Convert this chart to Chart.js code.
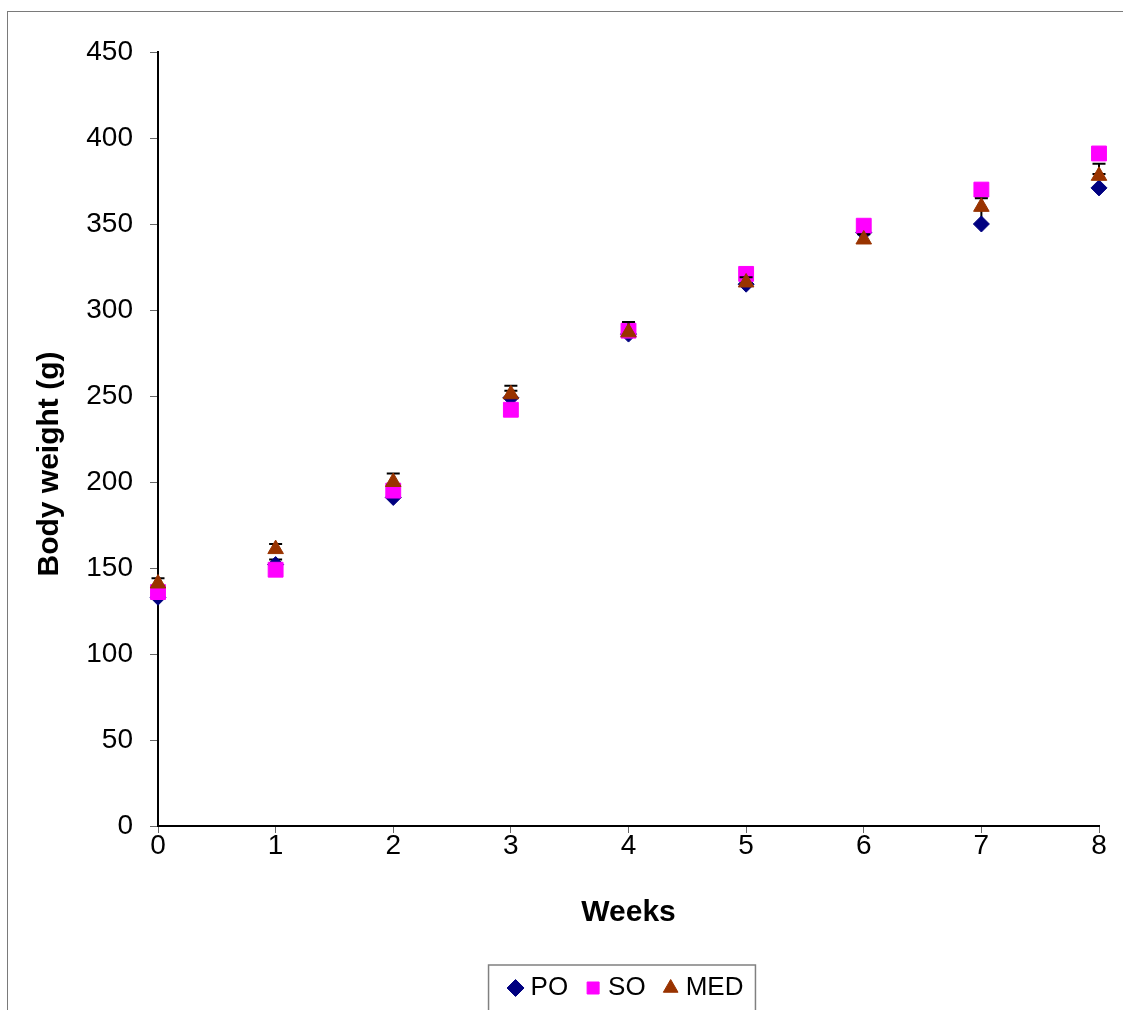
<!DOCTYPE html>
<html>
<head>
<meta charset="utf-8">
<script src="https://cdn.jsdelivr.net/npm/chart.js@4.4.1/dist/chart.umd.min.js"></script>
<style>
  html, body { margin: 0; padding: 0; background: #fff; overflow: hidden; }
  #frame { position: absolute; left: 7px; top: 11px; width: 1200px; height: 1100px;
           border-top: 1.5px solid #7a7a7a; border-left: 1.5px solid #7a7a7a; }
  #wrap { position: absolute; left: 0; top: 0; width: 1123px; height: 1011px; }
</style>
</head>
<body>
<div id="frame"></div>
<div id="wrap"><canvas id="chart"></canvas></div>
<script>
// 週數與體重 (g)
const weeks = [0, 1, 2, 3, 4, 5, 6, 7, 8];
const poWeight  = [133, 152, 191, 249, 286, 315, 345, 350, 371];
const soWeight  = [136, 149, 195, 242, 288, 321, 349, 370, 391];
const medWeight = [141, 161, 200, 251, 287, 316, 341, 360, 378];
// 誤差棒 (只畫上方)
const poErr  = [3, 3, 4, 4, 4, 3, 3, 8, 8];
const soErr  = [3, 3, 3, 3, 3, 3, 3, 3, 3];
const medErr = [3, 3, 5, 5, 6, 3, 3, 5, 7];
const xTicks = [0, 8, 1];    // min, max, step
const yTicks = [0, 450, 50];

const FONT = '"Liberation Sans", Arial, sans-serif';
Chart.defaults.font.family = FONT;
Chart.defaults.color = '#000';

const toPoints = vals => vals.map((v, i) => ({ x: weeks[i], y: v }));

// 每個資料集先畫誤差棒，再畫點
const errorBars = {
    id: 'errorBars',
    beforeDatasetDraw(chart, args) {
        const ds = chart.data.datasets[args.index];
        if (!ds.errPlus) return;
        const { ctx, scales: { x, y } } = chart;
        ctx.save();
        ctx.strokeStyle = '#000';
        ctx.lineWidth = 2;
        ds.data.forEach((p, i) => {
            const px = x.getPixelForValue(p.x);
            const y0 = y.getPixelForValue(p.y);
            const y1 = y.getPixelForValue(p.y + ds.errPlus[i]);
            ctx.beginPath();
            ctx.moveTo(px, y0); ctx.lineTo(px, y1);
            ctx.moveTo(px - 6.5, y1); ctx.lineTo(px + 6.5, y1);
            ctx.stroke();
        });
        ctx.restore();
    }
};

// 圖例外框
const legendBox = {
    id: 'legendBox',
    afterDraw(chart) {
        const hb = chart.legend && chart.legend.legendHitBoxes;
        if (!hb || !hb.length) return;
        const first = hb[0], last = hb[hb.length - 1];
        const ctx = chart.ctx;
        ctx.save();
        ctx.strokeStyle = '#808080';
        ctx.lineWidth = 1.5;
        const left = first.left - 25;
        ctx.strokeRect(left, first.top - 10, last.left + last.width + 12 - left, chart.height);
        ctx.restore();
    }
};

new Chart(document.getElementById('chart'), {
    type: 'scatter',
    data: {
        datasets: [
            {
                label: 'PO', data: toPoints(poWeight), errPlus: poErr, order: 3,
                pointStyle: 'rectRot', pointRadius: 8,
                backgroundColor: '#000080', borderColor: '#000080', borderWidth: 1, clip: false
            },
            {
                label: 'SO', data: toPoints(soWeight), errPlus: soErr, order: 2,
                pointStyle: 'rect', pointRadius: 10.5,
                backgroundColor: '#ff00ff', borderColor: '#ff00ff', borderWidth: 1, clip: false
            },
            {
                label: 'MED', data: toPoints(medWeight), errPlus: medErr, order: 1,
                pointStyle: 'triangle', pointRadius: 9,
                backgroundColor: '#993300', borderColor: '#993300', borderWidth: 1, clip: false
            }
        ]
    },
    options: {
        responsive: true,
        maintainAspectRatio: false,
        animation: false,
        events: [],
        layout: { padding: { left: 0, top: 52, right: 24, bottom: 0 } },
        scales: {
            x: {
                type: 'linear', min: xTicks[0], max: xTicks[1],
                ticks: { stepSize: xTicks[2], font: { size: 28 }, color: '#000', padding: -4 },
                grid: { drawOnChartArea: false, tickLength: 7, color: '#666' },
                border: { color: '#000', width: 2 },
                title: { display: true, text: 'Weeks', font: { size: 30, weight: 'bold' }, color: '#000',
                         padding: { top: 0, bottom: 21 } },
                afterFit: s => { s.height = 126; }
            },
            y: {
                min: yTicks[0], max: yTicks[1],
                ticks: { stepSize: yTicks[2], font: { size: 28 }, color: '#000', padding: 17 },
                grid: { drawOnChartArea: false, tickLength: 8, color: '#666' },
                border: { color: '#000', width: 2 },
                // 尾端空白讓標題稍微往下移 (與原圖對齊)
                title: { display: true, text: 'Body weight (g)      ', font: { size: 30, weight: 'bold' }, color: '#000',
                         padding: { top: 32, bottom: 0 } },
                afterFit: s => { s.width = 158; }
            }
        },
        plugins: {
            legend: {
                position: 'bottom',
                fullSize: false,
                // boxWidth 小一點，讓符號貼近文字
                labels: { usePointStyle: true, boxWidth: 4, boxHeight: 12, padding: 23,
                          font: { size: 26 }, color: '#000',
                          sort: (a, b) => a.datasetIndex - b.datasetIndex }
            },
            tooltip: { enabled: false }
        }
    },
    plugins: [errorBars, legendBox]
});
</script>
</body>
</html>
